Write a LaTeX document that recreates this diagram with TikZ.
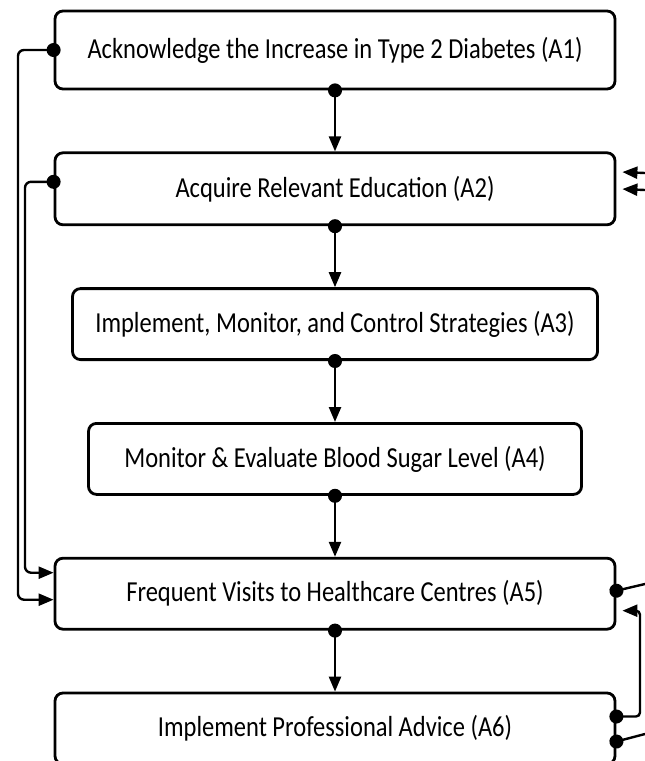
\documentclass[tikz,border=0pt]{standalone}
\usepackage{fontspec}
\setmainfont{Carlito}[FakeStretch=0.845]
\usetikzlibrary{positioning, arrows.meta}
\newcommand{\boxfont}{\fontsize{29}{32}\selectfont}

\begin{document}
\begin{tikzpicture}[x=1pt,y=-1pt,node distance=61pt]
  \tikzstyle{every node}=[font=\boxfont]
  \tikzstyle{procbox}=[draw, line width=2.8pt, rounded corners=8pt, minimum height=71pt, inner sep=0pt]
  \tikzstyle{flow}=[line width=2.4pt, {Circle[length=14pt]}-{Triangle[length=15pt,width=12pt]}, shorten <=-7pt]
  \tikzstyle{inflow}=[line width=2.4pt, -{Triangle[length=15pt,width=12pt]}]
  \tikzstyle{outflow}=[line width=2.4pt, {Circle[length=14pt]}-, shorten <=-7pt]
  \useasboundingbox (0,0) rectangle (645,761);

  \node (a1) [procbox, minimum width=560pt, minimum height=78pt] at (335,50) {Acknowledge the Increase in Type 2 Diabetes (A1)};
  \node (a2) [procbox, minimum width=560pt, minimum height=72pt, below=of a1] {Acquire Relevant Education (A2)};
  \node (a3) [procbox, minimum width=525pt, below=of a2] {Implement, Monitor, and Control Strategies (A3)};
  \node (a4) [procbox, minimum width=493pt, below=of a3] {Monitor \& Evaluate Blood Sugar Level (A4)};
  \node (a5) [procbox, minimum width=560pt, below=of a4] {Frequent Visits to Healthcare Centres (A5)};
  \node (a6) [procbox, minimum width=560pt, below=of a5] {Implement Professional Advice (A6)};

  % main chain
  \draw [flow] (a1) -- (a2);
  \draw [flow] (a2) -- (a3);
  \draw [flow] (a3) -- (a4);
  \draw [flow] (a4) -- (a5);
  \draw [flow] (a5) -- (a6);

  % feedback on the left
  \coordinate (outer) at (18,0);
  \coordinate (inner) at (25,0);
  \coordinate (a2out) at ([yshift=7pt]a2.west);
  \coordinate (a5in1) at ([yshift=21pt]a5.west);
  \coordinate (a5in2) at ([yshift=-6pt]a5.west);
  \draw [flow, rounded corners=6pt] (a1.west) -- (a1.west -| outer) -- (a5in2 -| outer) -- (a5in2);
  \draw [flow, rounded corners=6pt] (a2out) -- (a2out -| inner) -- (a5in1 -| inner) -- (a5in1);

  % links on the right
  \coordinate (a2in1) at ([yshift=17pt]a2.east);
  \coordinate (r1) at (645,173);
  \coordinate (r2) at (645,190);
  \draw [inflow, shorten >=6pt] (r1) -- (a2in1);
  \draw [inflow, shorten >=6pt] (r2) -- (a2.east);

  \coordinate (a5out) at ([yshift=3pt]a5.east);
  \coordinate (r3) at (645,584);
  \draw [outflow] (a5out) -- (r3);

  \coordinate (a6back) at ([yshift=12pt]a6.east);
  \coordinate (a5back) at ([yshift=-17pt]a5.east);
  \coordinate (loop) at (640,0);
  \draw [flow, rounded corners=4pt, shorten >=6pt] (a6back) -- (a6back -| loop) -- (a5back -| loop) -- (a5back);

  \coordinate (a6out) at ([yshift=-13pt]a6.east);
  \coordinate (r4) at (645,734);
  \draw [outflow] (a6out) -- (r4);
\end{tikzpicture}
\end{document}
